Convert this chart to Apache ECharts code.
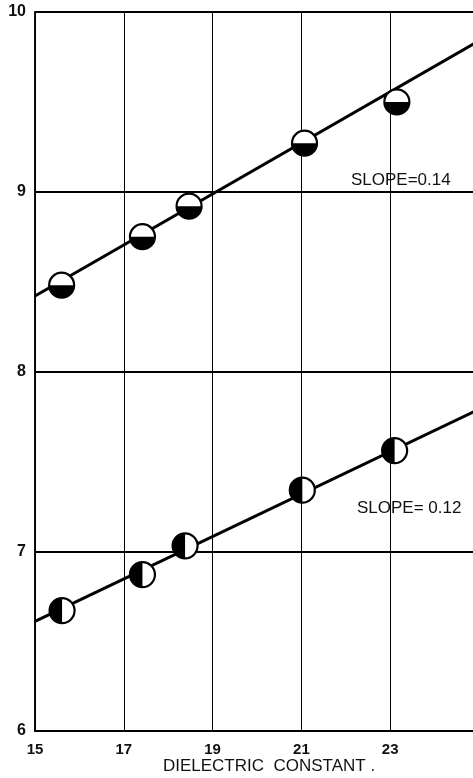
<!DOCTYPE html>
<html>
<head>
<meta charset="utf-8">
<script src="https://cdn.jsdelivr.net/npm/echarts@6/dist/echarts.min.js"></script>
<style>
html,body{margin:0;padding:0;background:#fff;}
#c{width:473px;height:778px;}
</style>
</head>
<body>
<div id="c"></div>
<script>
// Upper series (bottom half filled markers)
const upperX = [15.6, 17.42, 18.47, 21.07, 23.15];
const upperY = [8.48, 8.75, 8.92, 9.27, 9.50];
// Lower series (left half filled markers)
const lowerX = [15.61, 17.42, 18.38, 21.02, 23.1];
const lowerY = [6.67, 6.87, 7.03, 7.34, 7.56];
// Fitted lines (end points)
const upperFitX = [15, 25];
const upperFitY = [8.42, 9.84];
const lowerFitX = [15, 25];
const lowerFitY = [6.61, 7.79];
const xTicks = [15, 17, 19, 21, 23];
const yTicks = [6, 7, 8, 9, 10];
const xTitle = 'DIELECTRIC  CONSTANT .';
const slopeUpper = 'SLOPE=0.14';
const slopeLower = 'SLOPE= 0.12';

const zip = (a, b) => a.map((v, i) => [v, b[i]]);
const FONT = 'Liberation Sans';

function halfMarker(side) {
  return function (params, api) {
    const p = api.coord([api.value(0), api.value(1)]);
    const r = 12.5;
    const start = side === 'bottom' ? 0 : Math.PI / 2;
    const end = side === 'bottom' ? Math.PI : Math.PI * 1.5;
    return {
      type: 'group',
      children: [
        { type: 'circle', shape: { cx: p[0], cy: p[1], r: r }, style: { fill: '#fff', stroke: null } },
        { type: 'sector', shape: { cx: p[0], cy: p[1], r: r, r0: 0, startAngle: start, endAngle: end, clockwise: true }, style: { fill: '#000', stroke: null } },
        { type: 'circle', shape: { cx: p[0], cy: p[1], r: r }, style: { fill: null, stroke: '#000', lineWidth: 2.2 } }
      ]
    };
  };
}

const chart = echarts.init(document.getElementById('c'), null, { renderer: 'canvas' });
chart.setOption({
  backgroundColor: '#fff',
  animation: false,
  grid: { left: 35, right: -6, top: 12, bottom: 47, outerBoundsMode: 'none', containLabel: false, show: true, borderColor: '#000', borderWidth: 1.5, backgroundColor: 'transparent' },
  xAxis: {
    type: 'value', min: 15, max: 25, interval: 2,
    name: xTitle, nameLocation: 'middle', nameGap: 27, nameMoveOverlap: false,
    nameTextStyle: { fontFamily: FONT, fontSize: 17, color: '#111', padding: [0, 0, 0, 24] },
    axisLine: { show: true, lineStyle: { color: '#000', width: 2 } },
    axisTick: { show: false },
    axisLabel: {
      margin: 11, fontFamily: FONT, fontSize: 15, fontWeight: 'bold', color: '#111',
      formatter: v => (xTicks.indexOf(v) >= 0 ? String(v) : '')
    },
    splitLine: { show: true, lineStyle: { color: '#000', width: 1 } }
  },
  yAxis: {
    type: 'value', min: 6, max: 10, interval: 1,
    axisLine: { show: true, lineStyle: { color: '#000', width: 1.5 } },
    axisTick: { show: false },
    axisLabel: {
      margin: 9, fontFamily: FONT, fontSize: 16, fontWeight: 'bold', color: '#111',
      formatter: v => (yTicks.indexOf(v) >= 0 ? String(v) : '')
    },
    splitLine: { show: true, lineStyle: { color: '#000', width: 2 } }
  },
  series: [
    { type: 'line', data: zip(upperFitX, upperFitY), symbol: 'none', lineStyle: { color: '#000', width: 3 }, z: 2, silent: true },
    { type: 'line', data: zip(lowerFitX, lowerFitY), symbol: 'none', lineStyle: { color: '#000', width: 3 }, z: 2, silent: true },
    { type: 'custom', data: zip(upperX, upperY), renderItem: halfMarker('bottom'), z: 5, clip: false },
    { type: 'custom', data: zip(lowerX, lowerY), renderItem: halfMarker('left'), z: 5, clip: false }
  ],
  graphic: [
    { type: 'text', left: 351, top: 172, style: { text: slopeUpper, font: '17px ' + FONT, fill: '#111' } },
    { type: 'text', left: 357, top: 500, style: { text: slopeLower, font: '17px ' + FONT, fill: '#111' } }
  ]
});
</script>
</body>
</html>
